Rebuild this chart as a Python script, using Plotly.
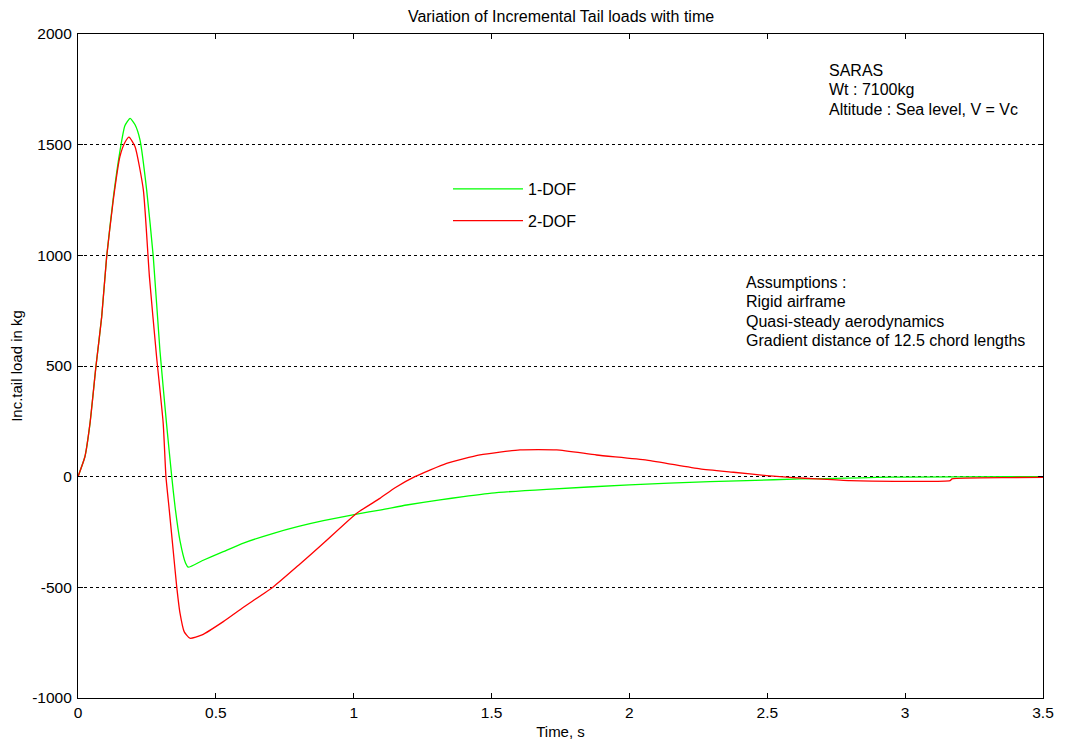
import plotly.graph_objects as go

# 1-DOF (green)
t_1dof = [0, 0.025, 0.0435, 0.065, 0.086, 0.104, 0.128, 0.152, 0.17, 0.189, 0.207, 0.225,
          0.249, 0.273, 0.297, 0.321, 0.340, 0.352, 0.37, 0.39, 0.400, 0.45, 0.527, 0.6,
          0.709, 0.8, 0.890, 1.011, 1.1, 1.192, 1.313, 1.398, 1.5, 1.7, 2.0, 2.292, 2.425,
          2.619, 2.788, 2.897, 3.0, 3.38, 3.5]
load_1dof = [0, 90, 240, 497, 723, 994, 1260, 1470, 1585, 1619, 1590, 1521,
             1296, 994, 572, 241, 0, -136, -290, -390, -409, -380, -339, -300,
             -256, -225, -199, -169, -150, -128, -105, -90, -74, -57, -37, -22, -18,
             -10, -7, -3, -2, 0, 0]

# 2-DOF (red)
t_2dof = [0, 0.025, 0.0435, 0.065, 0.086, 0.104, 0.128, 0.152, 0.17, 0.185, 0.207, 0.237,
          0.259, 0.285, 0.309, 0.319, 0.331, 0.345, 0.358, 0.37, 0.385, 0.406, 0.45, 0.527,
          0.6, 0.709, 0.8, 0.890, 1.011, 1.095, 1.15, 1.222, 1.337, 1.458, 1.603, 1.736,
          1.881, 2.063, 2.256, 2.377, 2.498, 2.594, 2.679, 2.8, 3.163, 3.17, 3.38, 3.5]
load_2dof = [0, 90, 241, 497, 723, 994, 1250, 1446, 1510, 1534, 1491, 1296,
             904, 542, 241, 0, -150, -330, -497, -617, -700, -730, -715, -655,
             -590, -497, -400, -301, -165, -98, -50, 0, 60, 98, 121, 121,
             98, 75, 35, 20, 5, -4, -10, -18, -18, -10, -4, -3]

x_ticks = [0, 0.5, 1, 1.5, 2, 2.5, 3, 3.5]
x_tick_text = ["0", "0.5", "1", "1.5", "2", "2.5", "3", "3.5"]
y_ticks = [-1000, -500, 0, 500, 1000, 1500, 2000]
y_tick_text = ["-1000", "-500", "0", "500", "1000", "1500", "2000"]

info_lines = ["SARAS", "Wt : 7100kg", "Altitude : Sea level, V = Vc"]
assumption_lines = ["Assumptions :", "Rigid airframe", "Quasi-steady aerodynamics",
                    "Gradient distance of 12.5 chord lengths"]

font_family = "Liberation Sans, Arial, sans-serif"

W, H = 1057, 736

fig = go.Figure()
fig.add_trace(go.Scatter(x=t_1dof, y=load_1dof, mode="lines", name="1-DOF",
                         line=dict(color="#00ff00", width=1.3, shape="spline", smoothing=0.5),
                         legendgroup="a"))
fig.add_trace(go.Scatter(x=t_2dof, y=load_2dof, mode="lines", name="2-DOF",
                         line=dict(color="#ff0000", width=1.3, shape="spline", smoothing=0.5),
                         legendgroup="b"))

annotations = []
for i, txt in enumerate(info_lines):
    annotations.append(dict(x=2.717, y=1837 - 88 * i, xref="x", yref="y", xanchor="left",
                            yanchor="middle", align="left", text=txt, showarrow=False,
                            font=dict(size=16, color="black", family=font_family)))
for i, txt in enumerate(assumption_lines):
    annotations.append(dict(x=2.414, y=879 - 88 * i, xref="x", yref="y", xanchor="left",
                            yanchor="middle", align="left", text=txt, showarrow=False,
                            font=dict(size=16, color="black", family=font_family)))

fig.update_layout(
    width=W, height=H,
    margin=dict(l=70, r=22, t=26, b=46, autoexpand=False),
    paper_bgcolor="white", plot_bgcolor="white",
    font=dict(family=font_family, size=14, color="black"),
    title=dict(text="Variation of Incremental Tail loads with time", x=(561 - 8) / W, xanchor="center",
               y=1 - 8 / H, yanchor="middle", font=dict(size=16, color="black")),
    showlegend=True,
    legend=dict(x=(448 - 78) / 965, y=1 - (172 - 34) / 664, xanchor="left", yanchor="top",
                bgcolor="rgba(0,0,0,0)", borderwidth=0, traceorder="grouped",
                tracegroupgap=8, itemwidth=70, font=dict(size=16)),
    annotations=annotations,
)

fig.update_xaxes(range=[0, 3.5], tickvals=x_ticks, ticktext=x_tick_text,
                 showline=True, linecolor="black", linewidth=1.2, mirror="allticks",
                 ticks="inside", ticklen=5, tickcolor="black", showgrid=False,
                 zeroline=False, tickfont=dict(size=15.5), ticklabelstandoff=0,
                 automargin=False,
                 title=dict(text="Time, s", font=dict(size=15), standoff=6))
fig.update_yaxes(range=[-1000, 2000], tickvals=y_ticks, ticktext=y_tick_text,
                 showline=True, linecolor="black", linewidth=1.2, mirror="allticks",
                 ticks="inside", ticklen=5, tickcolor="black", showgrid=True,
                 gridcolor="black", griddash="dot", gridwidth=1, zeroline=False,
                 tickfont=dict(size=15.5), ticklabelstandoff=2, automargin=False,
                 title=dict(text="Inc.tail load in kg", font=dict(size=15), standoff=10))

fig.write_html("out.html")
